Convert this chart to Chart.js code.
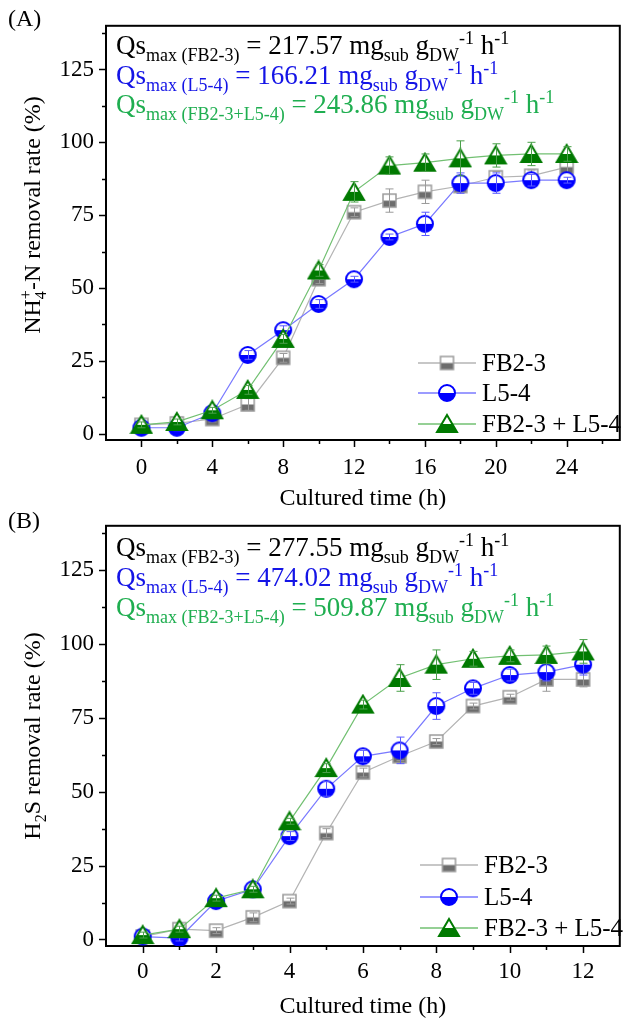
<!DOCTYPE html>
<html lang="en">
<head>
<meta charset="UTF-8">
<title>NH4+-N and H2S removal rate</title>
<script src="https://cdn.jsdelivr.net/npm/chart.js"></script>
<style>
  body { margin: 0; background: #fff; }
  canvas { position: absolute; left: 0; }
  #chartA { top: 0; }
  #chartB { top: 500px; }
</style>
</head>
<body>
<canvas id="chartA" width="629" height="530"></canvas>
<canvas id="chartB" width="629" height="524"></canvas>
<script>
const SERIF = "'Liberation Serif', 'Times New Roman', serif";

const seriesNames = ['FB2-3', 'L5-4', 'FB2-3 + L5-4'];
const qsTags = ['FB2-3', 'L5-4', 'FB2-3+L5-4'];

// (A) NH4+-N removal, every 2 h
const hoursA = [0, 2, 4, 6, 8, 10, 12, 14, 16, 18, 20, 22, 24];
const fb23A = [3, 3.5, 5, 10, 26, 53, 76, 80, 83, 85, 88, 88.5, 91.5];
const l54A = [2, 2, 7, 27, 35.5, 44.5, 53, 67.5, 72, 86, 86, 87, 87];
const mixA = [3, 4, 8, 15, 32.5, 56, 83, 92, 93, 94.5, 95.5, 96, 96];
const fb23ErrA = [1, 1, 1, 2, 1.5, 1.5, 1.5, 4, 4, 1.5, 2, 2, 2.5];
const l54ErrA = [1, 1, 1, 1.5, 1.5, 1.5, 1, 1, 4, 3.5, 3.5, 2, 1];
const mixErrA = [1, 1, 1, 1.5, 1.5, 2, 3.5, 3, 3, 6, 4, 4, 2.5];
const qsA = ['217.57', '166.21', '243.86'];

// (B) H2S removal, every 1 h
const hoursB = [0, 1, 2, 3, 4, 5, 6, 7, 8, 9, 10, 11, 12];
const fb23B = [1, 3.5, 3, 7.5, 13, 36, 56.5, 62, 67, 79, 82, 88, 88];
const l54B = [1, 0.5, 13, 17, 35, 51, 62, 64, 79, 85, 89.5, 90.5, 93];
const mixB = [1.5, 3.5, 14, 17, 40, 58, 79.5, 88.5, 93, 95, 96, 96.3, 97.5];
const fb23ErrB = [1, 1, 1, 1.5, 1, 1.5, 1.5, 1.5, 1, 1, 1, 4, 2.5];
const l54ErrB = [1, 1, 1, 1, 1.5, 2.5, 2, 4.5, 4.5, 2, 2, 3, 3.5];
const mixErrB = [1, 1, 1, 1, 1, 1.5, 1.5, 4.5, 5, 2.5, 2, 3, 4];
const qsB = ['277.55', '474.02', '509.87'];

const yTicks = [0, 12.5, 25, 37.5, 50, 62.5, 75, 87.5, 100, 112.5, 125, 137.5];
const yLabels = [0, 25, 50, 75, 100, 125];
const xTicksA = [0, 2, 4, 6, 8, 10, 12, 14, 16, 18, 20, 22, 24, 26];
const xLabelsA = [0, 4, 8, 12, 16, 20, 24];
const xTicksB = [0, 1, 2, 3, 4, 5, 6, 7, 8, 9, 10, 11, 12];
const xLabelsB = [0, 2, 4, 6, 8, 10, 12];

const lineColors = ['#b4b4b4', '#7a7aff', '#72c072'];
const errColors = ['#9a9a9a', '#5a5aff', '#4aa04a'];
const textColors = ['#000000', '#1414e6', '#1fae50'];

function marker(shape) {
  const c = document.createElement('canvas');
  const g = c.getContext('2d');
  if (shape === 'square') {
    c.width = 17; c.height = 17;
    g.fillStyle = '#fff'; g.fillRect(2, 2, 13, 13);
    g.fillStyle = '#6d6d6d'; g.fillRect(2, 8.5, 13, 6.5);
    g.strokeStyle = '#9a9a9a'; g.lineWidth = 1.5; g.strokeRect(2, 2, 13, 13);
  } else if (shape === 'circle') {
    c.width = 20; c.height = 20;
    g.beginPath(); g.arc(10, 10, 8, 0, 2 * Math.PI); g.fillStyle = '#fff'; g.fill();
    g.beginPath(); g.arc(10, 10, 8, 0, Math.PI); g.closePath(); g.fillStyle = '#0000ff'; g.fill();
    g.beginPath(); g.arc(10, 10, 8, 0, 2 * Math.PI); g.strokeStyle = '#0000ff'; g.lineWidth = 2; g.stroke();
  } else {
    c.width = 24; c.height = 22;
    const tri = () => { g.beginPath(); g.moveTo(12, 2); g.lineTo(22, 19); g.lineTo(2, 19); g.closePath(); };
    tri(); g.fillStyle = '#fff'; g.fill();
    g.save(); tri(); g.clip(); g.fillStyle = '#007a00'; g.fillRect(0, 11, 24, 10); g.restore();
    tri(); g.strokeStyle = '#007a00'; g.lineWidth = 2; g.stroke();
  }
  return c;
}
const markers = [marker('square'), marker('circle'), marker('triangle')];

// rich text with sub/superscripts
function richWidth(ctx, parts, size) {
  let cx = 0, lastX = 0;
  parts.forEach(p => {
    ctx.font = ((p.sub || p.sup) ? Math.round(size * 0.68) : size) + 'px ' + SERIF;
    const w = ctx.measureText(p.t).width;
    if (p.stack) cx = Math.max(cx, lastX + w); else { lastX = cx; cx += w; }
  });
  return cx;
}
function drawRich(ctx, parts, x, y, size, color) {
  let cx = x, lastX = x;
  ctx.fillStyle = color;
  ctx.textAlign = 'left';
  ctx.textBaseline = 'alphabetic';
  parts.forEach(p => {
    ctx.font = ((p.sub || p.sup) ? Math.round(size * 0.68) : size) + 'px ' + SERIF;
    const w = ctx.measureText(p.t).width;
    const dy = p.sub ? size * 0.27 : p.sup ? -size * 0.38 : 0;
    const px = p.stack ? lastX : cx;
    ctx.fillText(p.t, px, y + dy);
    if (p.stack) cx = Math.max(cx, px + w); else { lastX = cx; cx += w; }
  });
}
function qsLine(tag, val) {
  return [{ t: 'Qs' }, { t: 'max (' + tag + ')', sub: true }, { t: ' = ' + val + ' mg' },
    { t: 'sub', sub: true }, { t: ' g' }, { t: 'DW', sub: true }, { t: '-1', sup: true },
    { t: ' h' }, { t: '-1', sup: true }];
}

function decor(cfg) {
  return {
    id: 'decor' + cfg.panel,
    beforeDatasetsDraw(chart) {
      const ctx = chart.ctx, a = chart.chartArea;
      const xs = chart.scales.x, ys = chart.scales.y;
      ctx.save();
      ctx.strokeStyle = '#000';
      ctx.lineWidth = 2;
      ctx.strokeRect(a.left, a.top, a.right - a.left, a.bottom - a.top);
      ctx.lineWidth = 1.5;
      ctx.beginPath();
      cfg.xTicks.forEach(v => {
        const px = Math.round(xs.getPixelForValue(v)) + 0.5;
        const len = cfg.xLabels.includes(v) ? 7 : 4;
        ctx.moveTo(px, a.bottom); ctx.lineTo(px, a.bottom + len);
      });
      yTicks.forEach(v => {
        const py = Math.round(ys.getPixelForValue(v)) + 0.5;
        const len = yLabels.includes(v) ? 7 : 4;
        ctx.moveTo(a.left, py); ctx.lineTo(a.left - len, py);
      });
      ctx.stroke();
      ctx.restore();
    },
    afterDatasetDraw(chart, args) {
      const ds = chart.data.datasets[args.index];
      const ctx = chart.ctx, xs = chart.scales.x, ys = chart.scales.y;
      ctx.save();
      ctx.strokeStyle = errColors[args.index];
      ctx.lineWidth = 1;
      ctx.beginPath();
      ds.data.forEach((pt, i) => {
        const e = ds.errors[i];
        const px = Math.round(xs.getPixelForValue(pt.x)) + 0.5;
        const t = ys.getPixelForValue(pt.y + e), b = ys.getPixelForValue(pt.y - e);
        ctx.moveTo(px, t); ctx.lineTo(px, b);
        ctx.moveTo(px - 4, t); ctx.lineTo(px + 4, t);
        ctx.moveTo(px - 4, b); ctx.lineTo(px + 4, b);
      });
      ctx.stroke();
      ctx.restore();
    },
    afterDraw(chart) {
      const ctx = chart.ctx, a = chart.chartArea;
      ctx.save();
      // panel letter
      ctx.font = '24px ' + SERIF;
      ctx.fillStyle = '#000';
      ctx.textBaseline = 'middle';
      ctx.fillText('(' + cfg.panel + ')', 8, cfg.letterY);
      // Qs annotations
      cfg.qs.forEach((val, i) => {
        drawRich(ctx, qsLine(qsTags[i], val), 116, cfg.qsY[i], 27, textColors[i]);
      });
      // legend
      cfg.legendY.forEach((ly, i) => {
        ctx.strokeStyle = lineColors[i];
        ctx.lineWidth = 1.5;
        ctx.beginPath(); ctx.moveTo(cfg.legendX, ly); ctx.lineTo(cfg.legendX + 58, ly); ctx.stroke();
        const m = markers[i];
        ctx.drawImage(m, cfg.legendX + 29 - m.width / 2, ly - m.height / 2);
        ctx.font = '25px ' + SERIF;
        ctx.fillStyle = '#000';
        ctx.textBaseline = 'middle';
        ctx.textAlign = 'left';
        ctx.fillText(seriesNames[i], cfg.legendX + 64, ly + 1);
      });
      // x title
      ctx.font = '24px ' + SERIF;
      ctx.textAlign = 'center';
      ctx.textBaseline = 'alphabetic';
      ctx.fillStyle = '#000';
      ctx.fillText('Cultured time (h)', (a.left + a.right) / 2, cfg.xTitleY);
      // y title, rotated
      ctx.translate(32, cfg.yTitleY);
      ctx.rotate(-Math.PI / 2);
      const w = richWidth(ctx, cfg.yTitle, 24);
      drawRich(ctx, cfg.yTitle, -w / 2, 8, 24, '#000');
      ctx.restore();
    }
  };
}

function makeChart(id, hours, vals, errs, cfg) {
  const datasets = vals.map((v, i) => ({
    label: seriesNames[i],
    data: hours.map((h, j) => ({ x: h, y: v[j] })),
    errors: errs[i],
    borderColor: lineColors[i],
    borderWidth: 1.2,
    pointStyle: markers[i],
    pointRadius: 8,
    order: 2 - i,
    tension: 0
  }));
  const tickFont = { family: SERIF, size: 23 };
  return new Chart(document.getElementById(id), {
    type: 'line',
    data: { datasets: datasets },
    options: {
      responsive: false,
      animation: false,
      layout: { padding: { top: cfg.top, right: 2, left: 0, bottom: 0 } },
      plugins: { legend: { display: false }, tooltip: { enabled: false } },
      scales: {
        x: {
          type: 'linear', min: cfg.xMin, max: cfg.xMax,
          grid: { display: false, drawTicks: false }, border: { display: false },
          ticks: {
            padding: cfg.xPad, font: tickFont, color: '#000', autoSkip: false, maxRotation: 0,
            callback: v => cfg.xLabels.includes(v) ? String(v) : ''
          },
          afterBuildTicks: s => { s.ticks = cfg.xTicks.map(v => ({ value: v })); },
          afterFit: s => { s.height = cfg.xHeight; }
        },
        y: {
          min: -2.2, max: 140,
          grid: { display: false, drawTicks: false }, border: { display: false },
          ticks: {
            padding: 12, font: tickFont, color: '#000', autoSkip: false,
            callback: v => yLabels.includes(v) ? String(v) : ''
          },
          afterBuildTicks: s => { s.ticks = yTicks.map(v => ({ value: v })); },
          afterFit: s => { s.width = 106; }
        }
      }
    },
    plugins: [decor(cfg)]
  });
}

makeChart('chartA', hoursA, [fb23A, l54A, mixA], [fb23ErrA, l54ErrA, mixErrA], {
  panel: 'A', top: 22, xHeight: 90, xPad: 14, xMin: -2, xMax: 27,
  xTicks: xTicksA, xLabels: xLabelsA,
  letterY: 20, qs: qsA, qsY: [54, 84, 113],
  legendX: 418, legendY: [363, 393, 424],
  xTitleY: 505, yTitleY: 215,
  yTitle: [{ t: 'NH' }, { t: '4', sub: true }, { t: '+', sup: true, stack: true }, { t: '-N removal rate (%)' }]
});

makeChart('chartB', hoursB, [fb23B, l54B, mixB], [fb23ErrB, l54ErrB, mixErrB], {
  panel: 'B', top: 25, xHeight: 78, xPad: 12, xMin: -1, xMax: 13,
  xTicks: xTicksB, xLabels: xLabelsB,
  letterY: 22, qs: qsB, qsY: [56, 86, 116],
  legendX: 420, legendY: [365, 397, 428],
  xTitleY: 513, yTitleY: 236,
  yTitle: [{ t: 'H' }, { t: '2', sub: true }, { t: 'S removal rate (%)' }]
});
</script>
</body>
</html>
